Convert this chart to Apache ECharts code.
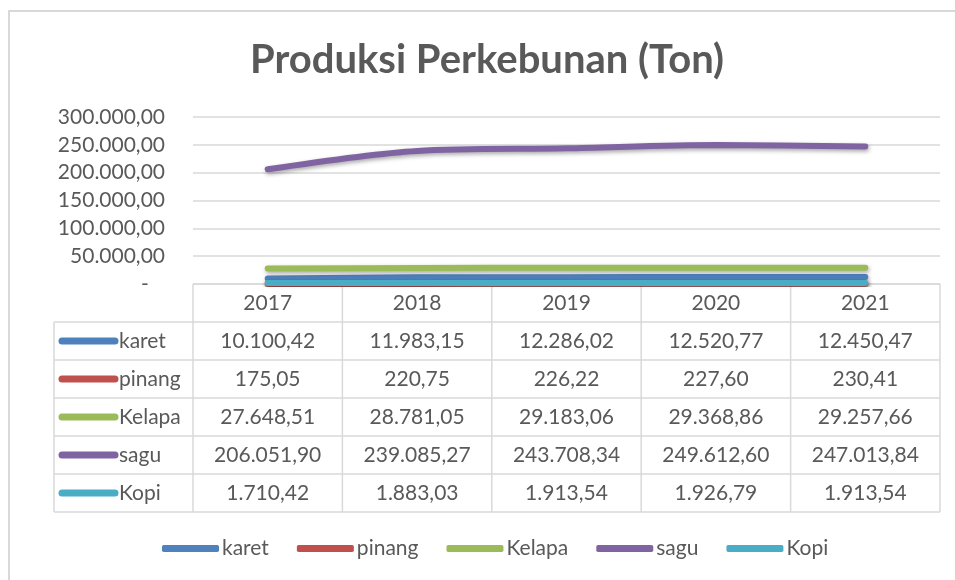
<!DOCTYPE html>
<html>
<head>
<meta charset="utf-8">
<script src="https://cdn.jsdelivr.net/npm/echarts@6/dist/echarts.min.js"></script>
<style>
  html, body { margin: 0; padding: 0; background: #fff; }
  #chart { width: 955px; height: 580px; }
</style>
</head>
<body>
<div id="chart"></div>
<script>
const years = ['2017', '2018', '2019', '2020', '2021']
const karet = [10100.42, 11983.15, 12286.02, 12520.77, 12450.47]
const pinang = [175.05, 220.75, 226.22, 227.60, 230.41]
const kelapa = [27648.51, 28781.05, 29183.06, 29368.86, 29257.66]
const sagu = [206051.90, 239085.27, 243708.34, 249612.60, 247013.84]
const kopi = [1710.42, 1883.03, 1913.54, 1926.79, 1913.54]

const seriesNames = ['karet', 'pinang', 'Kelapa', 'sagu', 'Kopi']
const seriesData = [karet, pinang, kelapa, sagu, kopi]
const colors = ['#4f81bd', '#c0504d', '#9bbb59', '#8064a2', '#4bacc6']

const FONT = 'Lato'
const TXT = '#595959'
const LINE = '#d9d9d9'

// indonesian number format: 12.345,67
function fmt(v) {
  let parts = v.toFixed(2).split('.')
  parts[0] = parts[0].replace(/\B(?=(\d{3})+(?!\d))/g, '.')
  return parts[0] + ',' + parts[1]
}

const chartEl = document.getElementById('chart')
let myChart = echarts.init(chartEl)

let option = {
  animation: false,
  color: colors,
  title: {
    text: 'Produksi Perkebunan (Ton)',
    left: 482,
    textAlign: 'center',
    top: 35,
    textStyle: { fontFamily: FONT, fontSize: 40, fontWeight: 'bold', color: TXT }
  },
  legend: {
    data: seriesNames,
    bottom: 16,
    left: 157,
    icon: 'roundRect',
    itemWidth: 57,
    itemHeight: 7,
    itemGap: 28,
    textStyle: { fontFamily: FONT, fontSize: 21, color: TXT, padding: [0, 0, 0, -2] }
  },
  grid: { left: 193, right: 15, top: 117, bottom: 296, containLabel: false },
  xAxis: {
    type: 'category',
    data: years,
    boundaryGap: true,
    axisLine: { show: false },
    axisTick: { show: false },
    axisLabel: { show: false }
  },
  yAxis: {
    type: 'value',
    min: 0,
    max: 300000,
    interval: 50000,
    axisLine: { show: false },
    axisTick: { show: false },
    splitLine: { lineStyle: { color: LINE, width: 1.5 } },
    axisLabel: {
      margin: 28,
      fontFamily: FONT,
      fontSize: 21,
      color: TXT,
      formatter: v => v === 0 ? '-   ' : fmt(v)
    }
  },
  series: seriesNames.map((name, i) => ({
    name: name,
    type: 'line',
    data: seriesData[i],
    symbol: 'none',
    smooth: 0.3,
    lineStyle: {
      width: 6,
      cap: 'round',
      color: colors[i],
      shadowColor: 'rgba(0,0,0,0.35)',
      shadowBlur: 4,
      shadowOffsetX: 1,
      shadowOffsetY: 2
    }
  }))
}

myChart.setOption(option)

// data table under the plot, aligned with the category axis
function buildTable() {
  const rowH = 38
  const top = myChart.convertToPixel({ yAxisIndex: 0 }, 0)
  const x0 = myChart.convertToPixel({ xAxisIndex: 0 }, 0)
  const x1 = myChart.convertToPixel({ xAxisIndex: 0 }, 1)
  const band = x1 - x0
  const leftX = x0 - band / 2
  const rightX = leftX + band * years.length
  const labelX = 54
  const bottom = top + rowH * (seriesNames.length + 1)
  const els = []
  const ln = (a, b, c, d) => els.push({
    type: 'line', silent: true,
    shape: { x1: a, y1: b, x2: c, y2: d },
    style: { stroke: LINE, lineWidth: 1.5 }
  })
  const txt = (x, y, s, align) => els.push({
    type: 'text', silent: true, x: x, y: y,
    style: { text: s, fontFamily: FONT, fontSize: 21, fill: TXT, align: align, verticalAlign: 'middle' }
  })
  ln(leftX, top, rightX, top)
  for (let r = 1; r <= seriesNames.length + 1; r++) ln(labelX, top + rowH * r, rightX, top + rowH * r)
  ln(labelX, top + rowH, labelX, bottom)
  for (let c = 0; c <= years.length; c++) ln(leftX + band * c, top, leftX + band * c, bottom)
  years.forEach((y, c) => txt(leftX + band * (c + 0.5), top + rowH / 2, y, 'center'))
  seriesNames.forEach((name, r) => {
    const cy = top + rowH * (r + 1.5)
    els.push({
      type: 'line', silent: true,
      shape: { x1: 62, y1: cy, x2: 115, y2: cy },
      style: { stroke: colors[r], lineWidth: 7, lineCap: 'round' }
    })
    txt(119, cy, name, 'left')
    seriesData[r].forEach((v, c) => txt(leftX + band * (c + 0.5), cy, fmt(v), 'center'))
  })
  // chart area border
  els.push({
    type: 'rect', silent: true,
    shape: { x: 9, y: 11, width: 960, height: 600 },
    style: { fill: 'none', stroke: LINE, lineWidth: 2 }
  })
  myChart.setOption({ graphic: { elements: els } })
}
buildTable()
</script>
</body>
</html>
